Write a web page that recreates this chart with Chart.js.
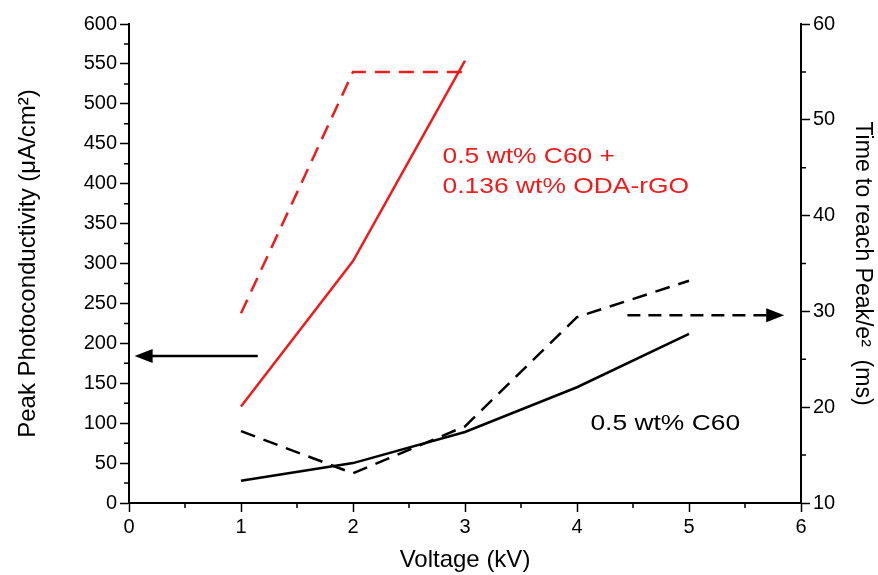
<!DOCTYPE html>
<html>
<head>
<meta charset="utf-8">
<script src="https://cdn.jsdelivr.net/npm/chart.js@4/dist/chart.umd.min.js"></script>
<style>
  html, body { margin: 0; padding: 0; background: #fff; }
  #wrap { width: 878px; height: 575px; }
</style>
</head>
<body>
<div id="wrap"><canvas id="chart" width="878" height="575"></canvas></div>
<script>
const voltage = [1, 2, 3, 4, 5];
const redVoltage = [1, 2, 3];

// left axis: peak photoconductivity (uA/cm2)
const redPeak = [121, 303, 554];
const blackPeak = [28, 50, 89, 145, 212];

// right axis: time to reach peak/e^2 (ms)
const redTime = [29.8, 55, 55];
const blackTime = [17.5, 13.1, 18.0, 29.4, 33.2];

const RED = "#ee1c1c";
const FONT = "'Liberation Sans', Arial, sans-serif";

function toPoints(xs, ys) {
    return xs.map((x, i) => ({ x: x, y: ys[i] }));
}

// arrows and labels drawn on top of the chart
const annotationPlugin = {
    id: "annotations",
    afterDatasetsDraw(chart) {
        const ctx = chart.ctx;
        const x = chart.scales.x;
        const yL = chart.scales.y;
        const yR = chart.scales.y1;

        function arrow(x0, x1, py, dashed) {
            ctx.save();
            ctx.strokeStyle = "#000";
            ctx.fillStyle = "#000";
            ctx.lineWidth = 2.5;
            if (dashed) ctx.setLineDash([13, 8]);
            const dir = x1 > x0 ? 1 : -1;
            ctx.beginPath();
            ctx.moveTo(x0, py);
            ctx.lineTo(x1 - dir * 14, py);
            ctx.stroke();
            ctx.setLineDash([]);
            ctx.beginPath();
            ctx.moveTo(x1, py);
            ctx.lineTo(x1 - dir * 18, py - 7);
            ctx.lineTo(x1 - dir * 18, py + 7);
            ctx.closePath();
            ctx.fill();
            ctx.restore();
        }

        arrow(x.getPixelForValue(1.15), x.getPixelForValue(0.05), yL.getPixelForValue(184), false);
        arrow(x.getPixelForValue(4.45), x.getPixelForValue(5.85), yR.getPixelForValue(29.6), true);

        // the labels in the picture are a little wider than the font
        function label(text, vx, vy, color) {
            const px = x.getPixelForValue(vx);
            const py = yL.getPixelForValue(vy);
            ctx.save();
            ctx.translate(px, py);
            ctx.scale(1.2, 1);
            ctx.font = "22px " + FONT;
            ctx.textBaseline = "middle";
            ctx.fillStyle = color;
            ctx.fillText(text, 0, 0);
            ctx.restore();
        }

        label("0.5 wt% C60 +", 2.8, 433, RED);
        label("0.136 wt% ODA-rGO", 2.8, 396, RED);
        label("0.5 wt% C60", 4.12, 99, "#000");
    },
    afterDraw(chart) {
        // minor ticks, half way between major ones
        const ctx = chart.ctx;
        const x = chart.scales.x;
        const yL = chart.scales.y;
        const yR = chart.scales.y1;
        ctx.save();
        ctx.strokeStyle = "#000";
        ctx.lineWidth = 1.5;
        ctx.beginPath();
        for (let v = 0.5; v < 6; v += 1) {
            const px = x.getPixelForValue(v);
            ctx.moveTo(px, x.top);
            ctx.lineTo(px, x.top + 5);
        }
        for (let v = 25; v < 600; v += 50) {
            const py = yL.getPixelForValue(v);
            ctx.moveTo(yL.right, py);
            ctx.lineTo(yL.right - 5, py);
        }
        for (let v = 15; v < 60; v += 10) {
            const py = yR.getPixelForValue(v);
            ctx.moveTo(yR.left, py);
            ctx.lineTo(yR.left + 5, py);
        }
        ctx.stroke();
        ctx.restore();
    }
};

const axisGrid = {
    drawOnChartArea: false,
    drawTicks: true,
    tickLength: 9,
    tickColor: "#000",
    tickWidth: 1.5
};

new Chart(document.getElementById("chart"), {
    type: "line",
    data: {
        datasets: [
            {
                label: "C60 + ODA-rGO peak",
                data: toPoints(redVoltage, redPeak),
                borderColor: RED,
                borderWidth: 2.5,
                yAxisID: "y"
            },
            {
                label: "C60 + ODA-rGO time",
                data: toPoints(redVoltage, redTime),
                borderColor: RED,
                borderWidth: 2.5,
                borderDash: [15, 9],
                yAxisID: "y1"
            },
            {
                label: "C60 peak",
                data: toPoints(voltage, blackPeak),
                borderColor: "#000",
                borderWidth: 2.5,
                yAxisID: "y"
            },
            {
                label: "C60 time",
                data: toPoints(voltage, blackTime),
                borderColor: "#000",
                borderWidth: 2.5,
                borderDash: [15, 9],
                yAxisID: "y1"
            }
        ]
    },
    options: {
        responsive: false,
        animation: false,
        layout: { padding: { top: 24, left: 0, right: 0, bottom: 0 } },
        elements: { point: { radius: 0 }, line: { tension: 0 } },
        plugins: { legend: { display: false }, tooltip: { enabled: false } },
        scales: {
            x: {
                type: "linear",
                min: 0,
                max: 6,
                afterFit: s => { s.height = 72; },
                ticks: { stepSize: 1, color: "#000", font: { family: FONT, size: 20 }, padding: 3, maxRotation: 0 },
                grid: axisGrid,
                border: { color: "#000", width: 2 },
                title: { display: true, text: "Voltage (kV)", color: "#000", font: { family: FONT, size: 24 }, padding: { top: 0, bottom: 0 } }
            },
            y: {
                position: "left",
                min: 0,
                max: 600,
                afterFit: s => { s.width = 129; },
                ticks: { stepSize: 50, color: "#000", font: { family: FONT, size: 20 }, padding: 3 },
                grid: axisGrid,
                border: { color: "#000", width: 2 },
                title: { display: true, text: "Peak Photoconductivity (\u03bcA/cm\u00b2)", color: "#000", font: { family: FONT, size: 24 }, padding: { top: 14, bottom: 0 } }
            },
            y1: {
                position: "right",
                min: 10,
                max: 60,
                afterFit: s => { s.width = 77; },
                ticks: { stepSize: 10, color: "#000", font: { family: FONT, size: 20 }, padding: 3 },
                grid: axisGrid,
                border: { color: "#000", width: 2 },
                title: { display: true, text: "Time to reach Peak/e\u00b2  (ms)", color: "#000", font: { family: FONT, size: 23 }, padding: { top: 2, bottom: 0 } }
            }
        }
    },
    plugins: [annotationPlugin]
});
</script>
</body>
</html>
